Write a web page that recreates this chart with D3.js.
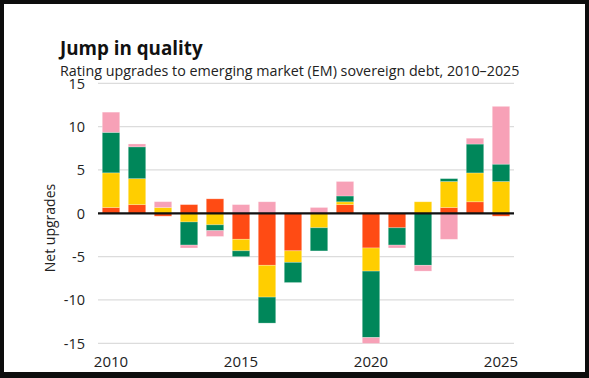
<!DOCTYPE html>
<html><head><meta charset="utf-8">
<script src="https://cdn.jsdelivr.net/npm/d3@7"></script>
<style>
html,body{margin:0;padding:0;background:#0d0d0d;}
svg{display:block;font-family:"Open Sans",sans-serif;}
</style></head>
<body>
<svg id="chart" width="589" height="378"></svg>
<script>
const years = d3.range(2010, 2026);
const orangeSeries = [0.67, 1, -0.33, 1, 1.67, -3, -6, -4.33, 0, 1, -4, -1.67, 0, 0.67, 1.33, -0.33];
const yellowSeries = [4, 3, 0.67, -1, -1.33, -1.33, -3.67, -1.33, -1.67, 0.33, -2.67, 0, 1.33, 3, 3.33, 3.67];
const greenSeries  = [4.67, 3.67, 0, -2.67, -0.67, -0.67, -3, -2.33, -2.67, 0.67, -7.67, -2, -6, 0.33, 3.33, 2];
const pinkSeries   = [2.33, 0.33, 0.67, -0.33, -0.67, 1, 1.33, 0, 0.67, 1.67, -0.67, -0.33, -0.67, -3, 0.67, 6.67];
const yTicks = [-15, -10, -5, 0, 5, 10, 15];
const xTickYears = [2010, 2015, 2020, 2025];
const title = "Jump in quality";
const subtitle = "Rating upgrades to emerging market (EM) sovereign debt, 2010–2025";
const yTitle = "Net upgrades";

const keys = ["orange", "yellow", "green", "pink"];
const colors = {orange: "#ff4b14", yellow: "#ffce00", green: "#00875a", pink: "#f7a1b7"};
const table = years.map((yr, i) => ({year: yr, orange: orangeSeries[i], yellow: yellowSeries[i], green: greenSeries[i], pink: pinkSeries[i]}));

const svg = d3.select("#chart");
svg.append("rect").attr("x", 4).attr("y", 4).attr("width", 581).attr("height", 368).attr("fill", "#fff");

const x = d3.scaleBand().domain(years).range([98, 514]).paddingInner(0.33).paddingOuter(0.165);
const y = d3.scaleLinear().domain([-15, 15]).range([343.3, 83.3]);

// gridlines
svg.append("g").selectAll("line").data(yTicks.filter(d => d !== 0)).join("line")
  .attr("x1", 98).attr("x2", 514).attr("y1", d => y(d)).attr("y2", d => y(d))
  .attr("stroke", "#dcdcdc").attr("stroke-width", 1.3);

// y axis labels
svg.append("g").selectAll("text").data(yTicks).join("text")
  .attr("x", 85).attr("y", d => y(d)).attr("dy", "0.36em").attr("text-anchor", "end")
  .attr("font-size", 14.5).attr("fill", "#222").text(d => d < 0 ? "-" + Math.abs(d) : d);

// x labels
svg.append("g").selectAll("text").data(xTickYears).join("text")
  .attr("x", d => x(d) + x.bandwidth() / 2).attr("y", 366.5).attr("text-anchor", "middle")
  .attr("font-size", 15).attr("fill", "#222").text(d => d);

// stacked bars
const stacked = d3.stack().keys(keys).offset(d3.stackOffsetDiverging)(table);
svg.append("g").selectAll("g").data(stacked).join("g")
  .attr("fill", d => colors[d.key])
  .selectAll("rect").data(d => d).join("rect")
  .attr("x", d => x(d.data.year))
  .attr("width", x.bandwidth())
  .attr("y", d => y(Math.max(d[0], d[1])))
  .attr("height", d => Math.abs(y(d[0]) - y(d[1])))
  .attr("stroke", "#fff").attr("stroke-opacity", 0.3).attr("stroke-width", 0.8);

// zero line
svg.append("line").attr("x1", 98).attr("x2", 514).attr("y1", y(0)).attr("y2", y(0))
  .attr("stroke", "#111").attr("stroke-width", 2.2);

// titles
svg.append("text").attr("x", 60).attr("y", 54.5).attr("font-size", 18.8).attr("font-weight", 700)
  .attr("fill", "#111").text(title);
svg.append("text").attr("x", 60).attr("y", 76).attr("font-size", 14.3).attr("fill", "#222").text(subtitle);
svg.append("text").attr("transform", "translate(55,228) rotate(-90)").attr("text-anchor", "middle")
  .attr("font-size", 14).attr("fill", "#222").text(yTitle);
</script>
</body></html>
